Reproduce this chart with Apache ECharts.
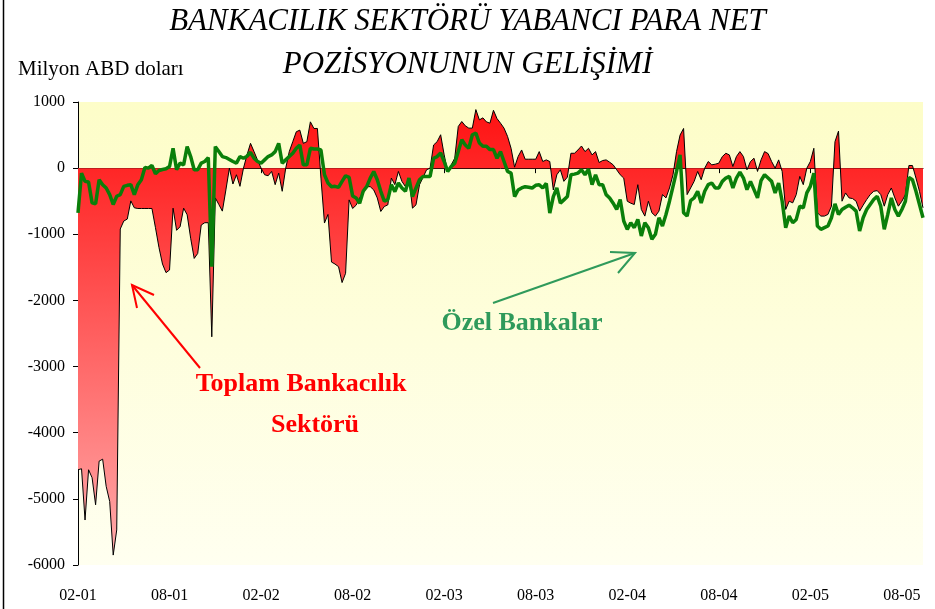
<!DOCTYPE html>
<html>
<head>
<meta charset="utf-8">
<script src="https://cdn.jsdelivr.net/npm/echarts@6/dist/echarts.min.js"></script>
<style>
  html, body { margin: 0; padding: 0; background: #ffffff; }
  #chart { width: 935px; height: 609px; }
</style>
</head>
<body>
<div id="chart"></div>
<script>
// Weekly net FX position, million USD
const tickLabels = ['02-01', '08-01', '02-02', '08-02', '02-03', '08-03', '02-04', '08-04', '02-05', '08-05'];
const weeksPerTick = 26;

// Toplam Bankacılık Sektörü
const toplam = [
  -4560, -4545, -5320, -4560, -4680, -5090, -4430, -4400, -4810, -5040, -5850, -5470,
  -920, -800, -770, -495, -600, -610, -610, -610, -610, -610,
  -900, -1200, -1450, -1580, -1540, -605, -940, -885, -605, -705,
  -1060, -1365, -1290, -860, -825, -825, -2550, -450, -550, -650,
  -330, 0, -240, -100, -275, 0, 200, 375, 250, 120,
  0, -100, -115, -50, -250, -75, -350, 0, 250, 400,
  550, 575, 375, 400, 700, 600, 600, -150, -830, -700,
  -1420, -1450, -1490, -1730, -1590, -480, -610, -560, -450, -380,
  -280, -280, -330, -450, -655, -580, -555, -150, -250, -50,
  -200, -280, -150, -605, -555, -250, -140, -25, 0, 350,
  400, 505, 200, -50, 50, 150, 630, 705, 640, 605,
  605, 885, 730, 760, 700, 680, 875, 750, 680, 605,
  480, 300, 15, 175, 275, 135, 135, 135, 135, 250,
  100, 125, 100, -330, -100, -25, -200, -135, 225, 225,
  275, 335, 250, 300, 200, 250, 85, 115, 125, 90,
  50, -25, -100, -150, -500, -530, -550, -250, -625, -725,
  -500, -675, -725, -650, -400, -450, -300, -100, 250, 500,
  600, -400, -300, -200, -50, -175, 0, 100, 50, 60,
  75, 175, 225, 200, 25, 175, 250, 175, -25, 100,
  150, -50, 125, 250, 220, 100, 0, 125, -50, -625,
  -500, -525, -400, -125, -250, 0, 100, 300, -675, -725,
  -725, -700, -575, 400, 560, -500, -375, -450, -460, -500,
  -650, -560, -475, -400, -350, -340, -400, -575, -400, -300,
  -450, -575, -500, -400, 40, 40, -150, -350, -600
];

// Özel Bankalar
const ozel = [
  -675, -75, -200, -210, -525, -540, -175, -250, -300, -400, -550, -425,
  -400, -275, -260, -250, -400, -250, -175, 10, 0, 40,
  -85, -35, -20, -10, 25, 300, -25, 75, 50, 325,
  175, -25, -25, 75, 100, 160, -1490, 325, 250, 175,
  160, 130, 100, 75, 175, 150, 180, 240, 150, 100,
  75, 125, 175, 200, 250, 375, 75, 125, 175, 225,
  300, 350, 50, 50, 300, 290, 290, 275, -100, -225,
  -280, -275, -290, -200, -115, -140, -420, -450, -530, -350,
  -280, -150, -50, -175, -350, -500, -475, -250, -355, -225,
  -300, -350, -150, -430, -300, -175, -125, -125, -125, 150,
  175, 230, 100, -50, 25, 75, 250, 430, 350, 300,
  505, 530, 380, 330, 330, 280, 280, 150, 250, 100,
  -50, -75, -430, -330, -300, -280, -290, -300, -260, -250,
  -300, -230, -680, -430, -300, -530, -480, -430, -100, -90,
  -75, -25, -100, -15, -250, -100, -250, -250, -400, -450,
  -530, -625, -475, -800, -925, -825, -900, -775, -1025, -825,
  -900, -1075, -1000, -750, -875, -700, -500, -275, -50, 200,
  -675, -725, -490, -450, -350, -525, -350, -250, -225, -300,
  -300, -200, -150, -125, -300, -150, -60, -150, -325, -200,
  -325, -450, -190, -100, -150, -200, -375, -225, -500, -900,
  -725, -825, -775, -575, -600, -375, -275, -75, -875, -925,
  -900, -875, -750, -540, -700, -625, -590, -560, -600, -650,
  -950, -750, -625, -550, -475, -425, -575, -925, -700, -450,
  -625, -725, -625, -500, -140, -175, -350, -550, -750
];

const weeks = toplam.map((_, i) => 'h' + i);
const weekLabel = (v, i) => (i % weeksPerTick === 0 ? (tickLabels[i / weeksPerTick] || '') : '');

const serif = '"Liberation Serif", "Times New Roman", serif';
const chart = echarts.init(document.getElementById('chart'), null, { renderer: 'canvas' });

chart.setOption({
  animation: false,
  backgroundColor: '#ffffff',
  grid: {
    left: 78, right: 12, top: 102, bottom: 44,
    show: true, borderWidth: 0,
    backgroundColor: new echarts.graphic.LinearGradient(0, 0, 0, 1, [
      { offset: 0, color: '#fdfdc8' },
      { offset: 1, color: '#fffff0' }
    ])
  },
  xAxis: [
    {
      type: 'category', data: weeks, boundaryGap: false,
      axisLine: { onZero: true, lineStyle: { color: '#000', width: 1 } },
      axisTick: { show: true, interval: (i) => i % weeksPerTick === 0, length: 5, lineStyle: { color: '#000' } },
      axisLabel: { show: false },
      splitLine: { show: false }
    },
    {
      type: 'category', data: weeks, boundaryGap: false, position: 'bottom',
      axisLine: { show: false, onZero: false },
      axisTick: { show: false },
      axisLabel: {
        interval: (i) => i % weeksPerTick === 0,
        formatter: weekLabel,
        margin: 23, color: '#000', fontFamily: serif, fontSize: 16
      },
      splitLine: { show: false }
    }
  ],
  yAxis: {
    type: 'value', min: -6000, max: 1000, interval: 1000,
    axisLine: { show: true, lineStyle: { color: '#000', width: 1 } },
    axisTick: { show: true, length: 5, lineStyle: { color: '#000' } },
    axisLabel: { color: '#000', fontFamily: serif, fontSize: 16, margin: 13, formatter: (v) => String(v) },
    splitLine: { show: false }
  },
  series: [
    {
      name: 'Toplam Bankacılık Sektörü',
      type: 'line', xAxisIndex: 0, data: toplam,
      symbol: 'none', smooth: false,
      lineStyle: { color: '#000', width: 1 },
      areaStyle: {
        origin: 0,
        opacity: 1,
        color: new echarts.graphic.LinearGradient(0, 0, 0, 1, [
          { offset: 0, color: '#ff1212' },
          { offset: 1, color: '#ffaaaa' }
        ])
      },
      z: 2
    },
    {
      name: 'Özel Bankalar',
      type: 'line', xAxisIndex: 0, data: ozel,
      symbol: 'none', smooth: false,
      lineStyle: { color: '#0a7f0a', width: 3.5 },
      z: 3
    }
  ],
  graphic: [
    { type: 'line', shape: { x1: 3.5, y1: 0, x2: 3.5, y2: 609 }, style: { stroke: '#000', lineWidth: 1.5 } },
    {
      type: 'text', left: 'center', top: 6,
      style: { text: 'BANKACILIK SEKTÖRÜ YABANCI PARA NET', font: 'italic 31px ' + serif, fill: '#000' }
    },
    {
      type: 'text', left: 'center', top: 49,
      style: { text: 'POZİSYONUNUN GELİŞİMİ', font: 'italic 31px ' + serif, fill: '#000' }
    },
    {
      type: 'text', left: 18, top: 59,
      style: { text: 'Milyon ABD doları', font: '21px ' + serif, fill: '#000' }
    },
    {
      type: 'text', x: 522, y: 323,
      style: { text: 'Özel Bankalar', font: 'bold 26px ' + serif, fill: '#2f9a5b', align: 'center', verticalAlign: 'middle' }
    },
    {
      type: 'text', x: 301, y: 384,
      style: { text: 'Toplam Bankacılık', font: 'bold 26px ' + serif, fill: '#ff0000', align: 'center', verticalAlign: 'middle' }
    },
    {
      type: 'text', x: 315, y: 425,
      style: { text: 'Sektörü', font: 'bold 26px ' + serif, fill: '#ff0000', align: 'center', verticalAlign: 'middle' }
    },
    // arrow towards the total-sector area
    { type: 'line', shape: { x1: 200, y1: 368, x2: 132, y2: 285 }, style: { stroke: '#ff0000', lineWidth: 2 } },
    { type: 'polyline', shape: { points: [[154, 295], [132, 285], [137, 308]] }, style: { stroke: '#ff0000', lineWidth: 2, fill: null } },
    // arrow towards the private-bank line
    { type: 'line', shape: { x1: 493, y1: 303, x2: 635, y2: 253 }, style: { stroke: '#2f9a5b', lineWidth: 2 } },
    { type: 'polyline', shape: { points: [[610, 252], [635, 253], [618, 273]] }, style: { stroke: '#2f9a5b', lineWidth: 2, fill: null } }
  ]
});
</script>
</body>
</html>
